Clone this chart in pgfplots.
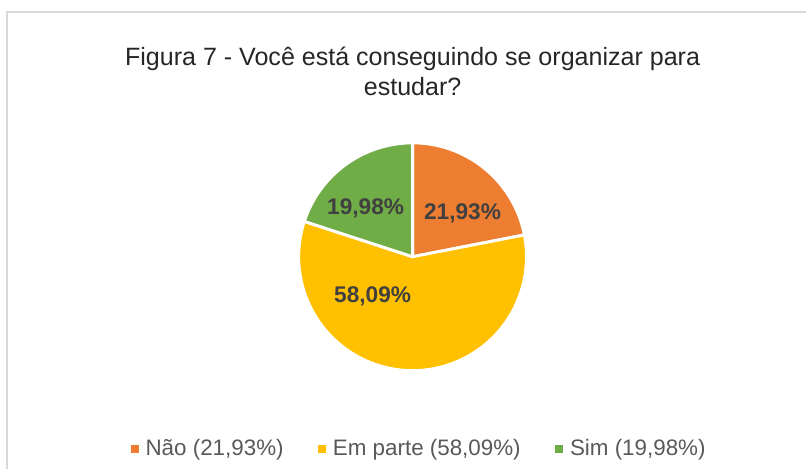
\documentclass[border=0pt]{standalone}
\usepackage{pgfplots}
\pgfplotsset{compat=1.18}
\usepackage{fontspec}
\setmainfont{Liberation Sans}
\definecolor{cNao}{HTML}{ED7D31}
\definecolor{cParte}{HTML}{FFC000}
\definecolor{cSim}{HTML}{70AD47}
\definecolor{txtDark}{HTML}{404040}
\definecolor{txtTitle}{HTML}{262626}
\definecolor{txtLeg}{HTML}{595959}
\definecolor{frame}{HTML}{D9D9D9}

% shares in percent, clockwise from the top
\def\vNao{21.93}
\def\vParte{58.09}
\def\vSim{19.98}
% centre and radius of the pie in pixel units
\def\cx{413}
\def\cy{-257}
\def\rr{114}

\pgfmathsetmacro{\aA}{90}
\pgfmathsetmacro{\aB}{\aA-3.6*\vNao}
\pgfmathsetmacro{\aC}{\aB-3.6*\vParte}
\pgfmathsetmacro{\aD}{\aC-3.6*\vSim}

\tikzset{
  slice/.style={fill=#1, draw=white, line width=2.2pt, line join=round},
  pct/.style={font=\fontsize{17}{20}\selectfont\bfseries, text=txtDark}
}

\begin{document}
\begin{tikzpicture}
\begin{axis}[
  scale only axis,
  width=605.25pt, height=351.75pt,
  xmin=0, xmax=807, ymin=-469, ymax=0,
  hide axis, clip=false,
  legend columns=-1,
  legend style={
    at={(axis cs:420,-449)}, anchor=center, draw=none, fill=none,
    font=\fontsize{16.8}{20}\selectfont, text=txtLeg,
    /tikz/every even column/.append style={column sep=24pt},
    inner sep=0pt
  },
  legend image code/.code={
    \path[draw=none, fill=none] (0pt,-4pt) rectangle (9pt,4pt);
    \fill[#1, draw=none] (0pt,-3pt) rectangle (6pt,3pt);
  },
]
\path (axis cs:0,0) (axis cs:807,-469);
\draw[frame, line width=1.2pt] (axis cs:7,-469) -- (axis cs:7,-12) -- (axis cs:807,-12);

\addplot[slice=cNao, domain=\aB:\aA, samples=60, forget plot]
  ({\cx+\rr*cos(x)}, {\cy+\rr*sin(x)}) -- (axis cs:\cx,\cy) -- cycle;
\addplot[slice=cParte, domain=\aC:\aB, samples=120, forget plot]
  ({\cx+\rr*cos(x)}, {\cy+\rr*sin(x)}) -- (axis cs:\cx,\cy) -- cycle;
\addplot[slice=cSim, domain=\aD:\aC, samples=60, forget plot]
  ({\cx+\rr*cos(x)}, {\cy+\rr*sin(x)}) -- (axis cs:\cx,\cy) -- cycle;

\node[pct] at (axis cs:463,-214) {21,93\%};
\node[pct] at (axis cs:373,-297) {58,09\%};
\node[pct] at (axis cs:366,-209) {19,98\%};

\node[anchor=base, text=txtTitle, font=\fontsize{18.8}{22}\selectfont]
  at (axis cs:413,-66) {Figura 7 - Você está conseguindo se organizar para};
\node[anchor=base, text=txtTitle, font=\fontsize{18.8}{22}\selectfont]
  at (axis cs:413,-96) {estudar?};

\addlegendimage{fill=cNao, draw=none}
\addlegendentry{Não (21,93\%)}
\addlegendimage{fill=cParte, draw=none}
\addlegendentry{Em parte (58,09\%)}
\addlegendimage{fill=cSim, draw=none}
\addlegendentry{Sim (19,98\%)}
\end{axis}
\end{tikzpicture}
\end{document}
